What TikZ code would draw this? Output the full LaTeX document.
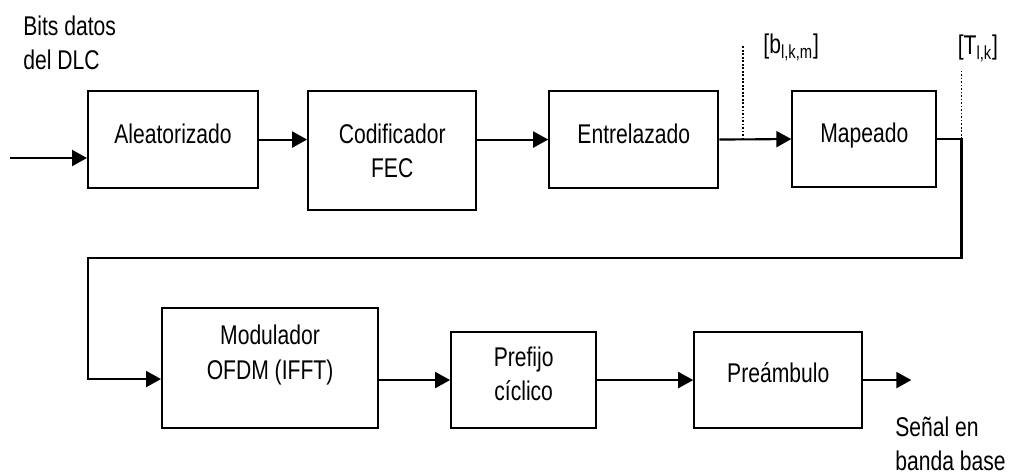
\documentclass[tikz,border=0pt]{standalone}
\usepackage{fontspec}
\setmainfont{Liberation Sans}[FakeStretch=0.78]
\usepackage{tikz}
\usetikzlibrary{arrows.meta,positioning,calc}

\begin{document}
\begin{tikzpicture}[
    font=\fontsize{15.4pt}{19.5pt}\selectfont,
    block/.style={rectangle, draw, line width=1.2pt, align=center, inner sep=0pt, text height=0.39cm, text depth=0.24cm},
    twoline/.style={text height=1.075cm},
    arrow/.style={line width=1.2pt, -{Triangle[length=0.3cm,width=0.32cm]}},
    probe/.style={line width=1pt, densely dotted},
    tag/.style={inner sep=0pt, align=left}
]
\useasboundingbox (0,0) rectangle (20.32,-9.5);

% transmitter chain, first row (tops aligned)
\node[block, minimum width=3.40cm, minimum height=1.94cm, anchor=north west] (alea) at (1.74,-1.80) {Aleatorizado};
\node[block, twoline, minimum width=3.36cm, minimum height=2.38cm, text depth=0cm, right=0.96cm of alea.north east, anchor=north west] (fec) {Codificador\\FEC};
\node[block, minimum width=3.38cm, minimum height=1.94cm, right=1.42cm of fec.north east, anchor=north west] (entre) {Entrelazado};
\node[block, minimum width=2.88cm, minimum height=1.92cm, right=1.44cm of entre.north east, anchor=north west] (mapeo) {Mapeado};

% second row (bottoms aligned)
\node[block, twoline, minimum width=4.32cm, minimum height=2.40cm, text depth=0.63cm, anchor=north west] (ofdm) at (3.22,-6.14) {Modulador\\OFDM (IFFT)};
\node[block, twoline, minimum width=2.90cm, minimum height=1.92cm, text depth=0.24cm, right=1.42cm of ofdm.south east, anchor=south west] (cp) {Prefijo\\cíclico};
\node[block, minimum width=3.36cm, minimum height=1.92cm, text depth=0.28cm, right=1.92cm of cp.south east, anchor=south west] (pream) {Preámbulo};

% input / output texts
\node[tag, anchor=west] (src) at (0.46,-0.85) {Bits datos\\del DLC};
\node[tag, anchor=west] (sink) at (17.90,-8.88) {Señal en\\banda base};

% observation points
\coordinate (bk) at ($(entre.east)!0.33!(mapeo.west)$);
\coordinate (tk) at ($(mapeo.east)+(0.48,0)$);
\draw[probe] (bk) -- ++(0,1.88) coordinate (bktop);
\draw[probe] (tk) -- ++(0,1.40) coordinate (tktop);
\node[tag, anchor=west] (blbl) at ($(bktop)+(0.40,-0.04)$) {[b\textsubscript{l,k,m}]};
\node[tag, anchor=west] (tlbl) at ($(tktop)+(-0.08,0.42)$) {[T\textsubscript{l,k}]};

% connections
\coordinate (in) at (0.20,-3.16);
\coordinate (loop) at (1.76,-5.16);
\draw[arrow] (in) -- (in -| alea.west);
\draw[arrow] (alea.east) -- (alea.east -| fec.west);
\draw[arrow] (fec.east |- entre.west) -- (entre.west);
\draw[arrow] (entre.east) -- (mapeo.west);
\draw[arrow] (mapeo.east) -- (tk) |- (loop) |- ($(ofdm.west)+(0,-0.22)$);
\draw[arrow] (ofdm.east |- cp.west) -- (cp.west);
\draw[arrow] (cp.east) -- (pream.west);
\draw[arrow] (pream.east) -- ++(0.96,0) coordinate (out);

\end{tikzpicture}
\end{document}
